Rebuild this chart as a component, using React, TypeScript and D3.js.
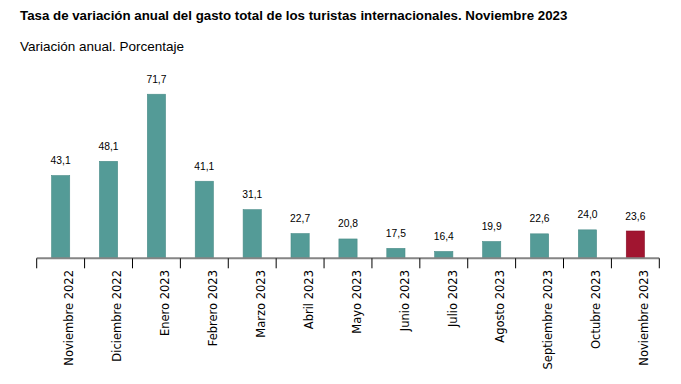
import { scaleBand, scaleLinear } from 'd3'

const categories = [
  'Noviembre 2022',
  'Diciembre 2022',
  'Enero 2023',
  'Febrero 2023',
  'Marzo 2023',
  'Abril 2023',
  'Mayo 2023',
  'Junio 2023',
  'Julio 2023',
  'Agosto 2023',
  'Septiembre 2023',
  'Octubre 2023',
  'Noviembre 2023',
]

const values = [43.1, 48.1, 71.7, 41.1, 31.1, 22.7, 20.8, 17.5, 16.4, 19.9, 22.6, 24.0, 23.6]

// the source chart clips the value axis near 14, not at zero
const valueDomain = [14, 85]

const width = 681
const height = 384
const plot = { left: 36.7, right: 659.3, base: 258.3, top: 56.4 }

const teal = '#549b97'
const crimson = '#a11530'

export default function App() {
  const x = scaleBand<string>()
    .domain(categories)
    .range([plot.left, plot.right])
    .paddingInner(0.62)
    .paddingOuter(0.31)

  const step = x.step()
  const y = scaleLinear().domain(valueDomain).range([plot.base, plot.top])

  const fmt = (v: number) => v.toFixed(1).replace('.', ',')

  return (
    <svg
      width={width}
      height={height}
      viewBox={`0 0 ${width} ${height}`}
      style={{ position: 'absolute', left: 0, top: 0, background: '#fff' }}
    >
      <text
        x={20}
        y={19.5}
        fontFamily="'Liberation Sans', Arial, sans-serif"
        fontWeight="bold"
        fontSize={13.3}
        fill="#000"
      >
        Tasa de variación anual del gasto total de los turistas internacionales. Noviembre 2023
      </text>
      <text
        x={20}
        y={51}
        fontFamily="'Liberation Sans', Arial, sans-serif"
        fontSize={13.5}
        fill="#000"
      >
        Variación anual. Porcentaje
      </text>

      {values.map((v, i) => {
        const cat = categories[i]
        const bx = x(cat) ?? 0
        const top = y(v)
        const last = i === values.length - 1
        return (
          <g key={cat}>
            <rect
              x={bx}
              y={top}
              width={x.bandwidth()}
              height={plot.base - top}
              fill={last ? crimson : teal}
              stroke={last ? '#8a1028' : '#4a8c88'}
              strokeWidth={0.6}
            />
            <text
              x={bx + x.bandwidth() / 2}
              y={top - 11.5}
              textAnchor="middle"
              fontFamily="'Liberation Sans', Arial, sans-serif"
              fontSize={10.3}
              fill="#000"
            >
              {fmt(v)}
            </text>
          </g>
        )
      })}

      <line
        x1={plot.left}
        x2={plot.right}
        y1={plot.base}
        y2={plot.base}
        stroke="#858585"
        strokeWidth={2}
      />
      {categories.map((_, i) => (
        <line
          key={`t${i}`}
          x1={plot.left + i * step}
          x2={plot.left + i * step}
          y1={plot.base}
          y2={plot.base + 10}
          stroke="#000"
          strokeWidth={1}
        />
      ))}
      <line
        x1={plot.right}
        x2={plot.right}
        y1={plot.base}
        y2={plot.base + 10}
        stroke="#000"
        strokeWidth={1}
      />

      {categories.map((cat) => {
        const cx = (x(cat) ?? 0) + x.bandwidth() / 2
        return (
          <text
            key={`l${cat}`}
            transform={`translate(${cx + 12.8}, 270) rotate(-90)`}
            textAnchor="end"
            fontFamily="'DejaVu Sans', Verdana, sans-serif"
            fontSize={11.5}
            fill="#000"
          >
            {cat}
          </text>
        )
      })}
    </svg>
  )
}
